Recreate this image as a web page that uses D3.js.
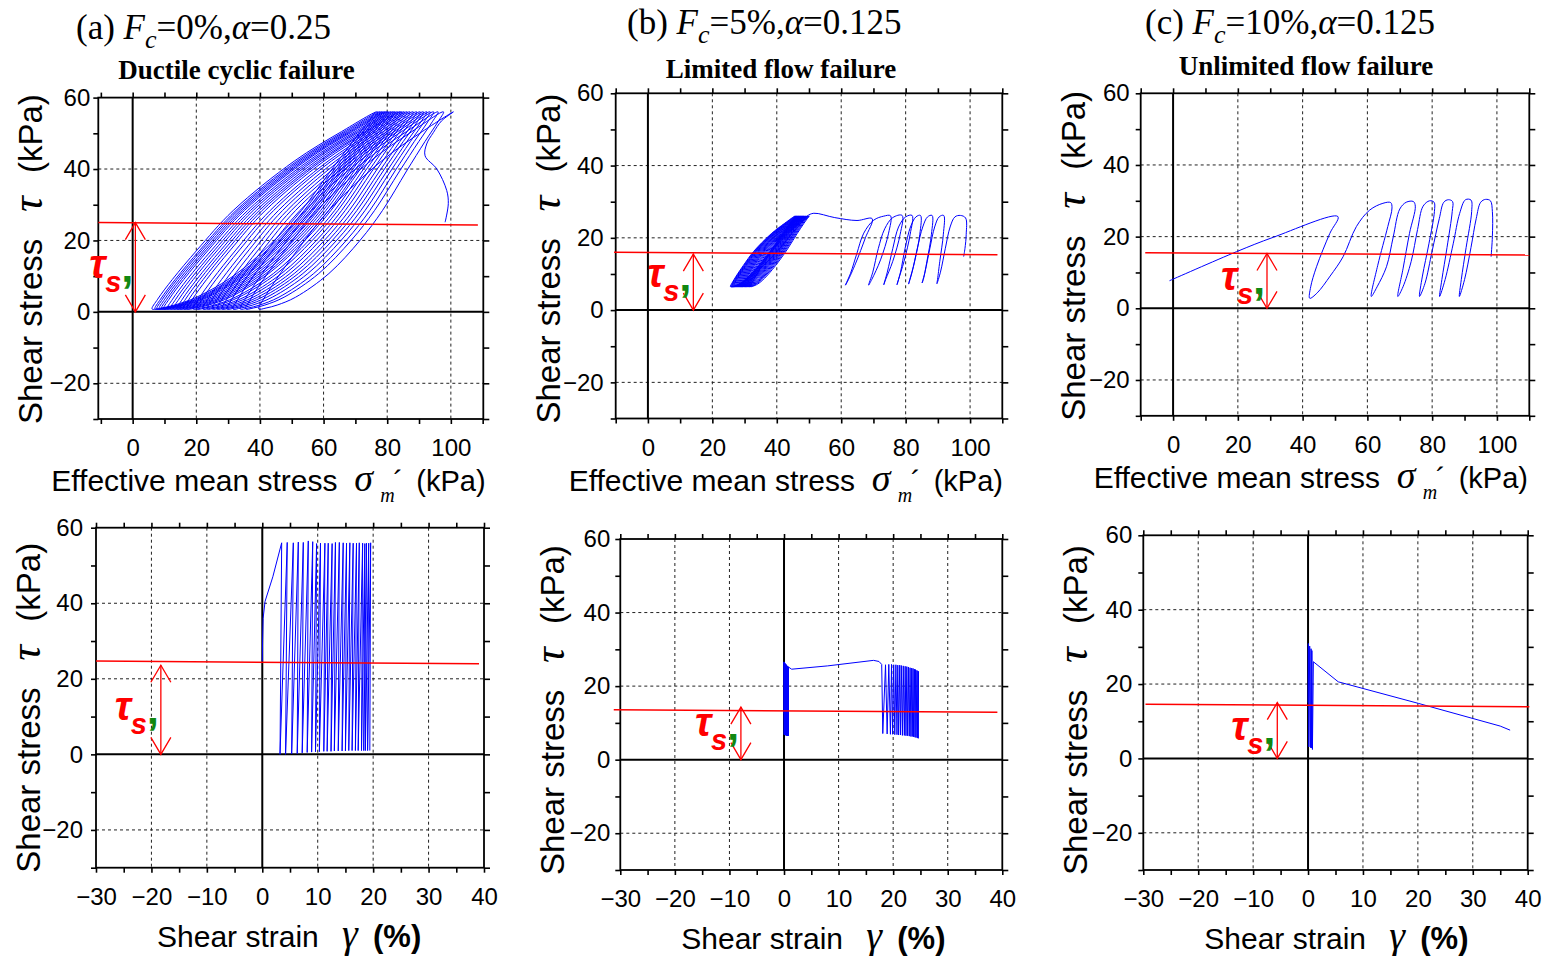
<!DOCTYPE html>
<html>
<head>
<meta charset="utf-8">
<script src="https://cdn.jsdelivr.net/npm/d3@7"></script>
<style>
	body { margin: 0; background: #fff; }
	svg { display: block; }
	text { font-family: "Liberation Sans", Arial, sans-serif; fill: #000; }
	.serif { font-family: "Liberation Serif", "Times New Roman", serif; }
</style>
</head>
<body>
<svg width="1548" height="956"></svg>
<script>

// tick values
const stressTicks = [0, 20, 40, 60, 80, 100];
const strainTicks = [-30, -20, -10, 0, 10, 20, 30, 40];
const tauTicks = [-20, 0, 20, 40, 60];

// panel titles
const caseLetters = ["a", "b", "c"];
const caseFc = ["0%", "5%", "10%"];
const caseAlpha = ["0.25", "0.125", "0.125"];
const failureModes = ["Ductile cyclic failure", "Limited flow failure", "Unlimited flow failure"];

// (a) stress path: first loading, then the cyclic loops (p' at top / bottom of each loop)
const aPathStart = [[98.2, 25.1], [99.2, 30.3], [98.7, 34.0], [95.6, 40.0], [91.9, 43.7], [92.4, 47.0], [94.5, 50.2], [97.1, 53.5]];
const aLoopTops = [100.8, 97.7, 96.0, 94.6, 93.5, 92.5, 91.4, 90.4, 89.3, 88.2, 87.2, 86.3, 85.4, 84.6, 84.1, 83.3, 82.5, 81.9, 81.2, 80.4, 79.8, 79.2, 78.5, 77.8, 77.0, 76.2];
const aLoopBottoms = [39.6, 35.5, 33.8, 31.5, 29.6, 28.0, 26.5, 25.0, 23.4, 22.0, 20.2, 19.0, 17.1, 16.0, 14.9, 13.9, 12.8, 11.8, 10.8, 9.7, 9.0, 8.3, 7.6, 7.0, 6.1];

const loopDownShape = [[1, 1], [0.9, 0.84], [0.75, 0.63], [0.5, 0.36], [0.3, 0.2], [0.15, 0.09], [0.05, 0.025], [0, 0]];
const loopUpShape = [[0, 0], [0.005, 0.04], [0.02, 0.1], [0.06, 0.2], [0.18, 0.38], [0.35, 0.55], [0.5, 0.67], [0.7, 0.8], [0.85, 0.9], [0.95, 0.97], [1, 1]];
const blobUpShape = [[0, 0], [0.01, 0.06], [0.05, 0.15], [0.15, 0.28], [0.35, 0.48], [0.55, 0.65], [0.75, 0.8], [0.9, 0.92], [1, 1]];

// (b) stress path: dense loops, then flow cycles
const bBlobTops = [50.2, 49.9, 49.6, 49.3, 49.0, 48.8, 48.5, 48.3, 48.1, 47.9, 47.7, 47.5, 47.3, 47.1, 46.9, 46.7, 46.5, 46.3, 46.1, 45.9, 45.7, 49.4];
const bBlobBottoms = [31.8, 31.3, 30.9, 30.5, 30.1, 29.7, 29.3, 29.0, 28.7, 28.4, 28.1, 27.8, 27.5, 27.2, 26.9, 26.6, 26.4, 26.2, 26.0, 25.8, 25.6];
const bFlowPath = [
	[51.5, 26.8], [58, 25.6], [64.9, 24.8], [69.6, 25.3],
	[67.5, 20], [64.5, 13], [62, 8], [61.3, 6.9],
	[62.9, 10.2], [64.8, 15.5], [67, 21.3], [70.1, 24.9], [73.2, 26], [75.3, 26.1],
	[74.7, 21.3], [72.2, 13.9], [69.5, 8.5], [68.5, 6.9],
	[69.8, 10.5], [71.5, 17], [73.5, 22.5], [76, 25.6], [78.9, 26.2],
	[78.3, 21], [76, 13.5], [73.8, 8.5], [73.2, 7],
	[74.3, 10.5], [76, 17], [77.8, 23], [80, 25.8], [82, 26.2],
	[81.4, 21], [79.5, 13.5], [77.8, 8.5], [77.3, 7],
	[78.4, 10.5], [79.8, 17], [81.5, 23], [83.2, 25.8], [84.6, 26.2],
	[84.4, 21], [82.8, 13.5], [81.3, 8.5], [80.9, 7.2],
	[82, 10.5], [83.6, 17], [85.3, 23], [86.8, 25.8], [88.2, 26.2],
	[88, 21], [86.6, 13.5], [85.5, 8.5], [85.1, 7.5],
	[86, 10.5], [87.5, 17], [89, 23], [90.4, 25.8], [91.8, 26.2],
	[91.7, 21], [90.6, 13.5], [89.9, 8.5], [89.7, 7.3],
	[90.8, 10.5], [92.3, 17], [93.8, 23], [95.3, 25.8], [97, 26.2], [98.6, 25.5],
	[98.8, 21], [98.4, 17], [98, 14.8]
];

// (c) stress path
const cPath = [
	[-1.1, 7.7], [19.6, 15.8], [30.9, 19.8], [50.9, 25.6],
	[48.4, 20.9], [44.3, 11.6], [42.5, 6.0], [42.2, 2.8],
	[44.5, 4.3], [48.5, 9.0], [52.5, 14.4], [56.6, 22.8], [60.7, 27.4], [64.8, 29.3], [67.2, 29.5],
	[67.6, 28], [66.3, 22.8], [63.2, 12], [61.2, 3.3],
	[63, 6], [65.9, 11.6], [68, 20], [70, 27.7], [72, 29.6], [74.2, 29.8],
	[74.8, 28.5], [73, 20.9], [71, 11], [69.4, 3.3],
	[71, 6], [73.5, 13], [75.5, 22], [77.2, 28.5], [79.2, 30], [80.6, 29.6],
	[80.7, 27], [79, 18], [77, 9], [76.1, 3.3],
	[77.8, 7], [80, 16], [82.2, 25], [83.6, 29.6], [85, 30.3], [86.3, 29.8],
	[86.2, 27], [84.6, 17], [83, 8], [82.3, 3.3],
	[84, 8], [86.5, 18], [88.5, 26.5], [90.3, 30.3], [92, 30.2],
	[92.2, 27], [90.5, 17], [89, 8], [88.4, 3.3],
	[90, 8], [92, 17], [93.6, 25], [95, 29.6], [96.5, 30.4], [98, 30], [98.6, 27], [98.6, 20], [98.2, 14.4]
];

// (a) stress-strain: first loading, then peaks and valleys of each cycle
const aStrainStart = [[0, 24.6], [0.05, 30], [0.15, 36], [0.5, 40.5], [1.9, 47]];
const aStrainPeaks = [3.5, 4.5, 5.6, 6.5, 7.4, 8.3, 9.1, 9.8, 10.5, 11.3, 11.9, 12.6, 13.2, 13.9, 14.6, 15.2, 15.8, 16.4, 17.0, 17.5, 18.1, 18.5, 18.8, 19.2, 19.55];
const aStrainPeakTau = [56.0, 56.1, 56.0, 56.2, 56.1, 56.5, 56.3, 55.8, 55.9, 55.9, 55.9, 55.8, 56.1, 56.1, 56.0, 55.9, 56.0, 55.9, 55.9, 56.0, 55.9, 55.8, 55.9, 55.9, 56.0];
const aStrainValleys = [3.2, 4.2, 5.3, 6.3, 7.2, 8.1, 8.9, 9.6, 10.3, 11.1, 11.7, 12.4, 13.0, 13.7, 14.4, 15.0, 15.6, 16.2, 16.8, 17.3, 17.9, 18.3, 18.6, 19.0, 19.4];
const aStrainValleyTau = [0, 0, 0.1, 0.2, 0.4, 0.5, 0.6, 0.7, 0.7, 0.8, 0.8, 0.8, 0.9, 0.9, 0.9, 0.9, 1.0, 1.0, 1.0, 1.0, 1.0, 1.0, 1.0, 1.0, 1.0];

// (b) stress-strain
const bBandPeaks = [0.0, 0.05, 0.13, 0.18, 0.26, 0.31, 0.37, 0.44, 0.49, 0.55, 0.62, 0.67, 0.73, 0.79];
const bBandPeakTau = [26.6, 26.5, 26.3, 26.2, 26.0, 25.9, 25.8, 25.8, 25.6, 25.5, 25.4, 25.3, 25.3, 25.2];
const bBandValleys = [0.02, 0.1, 0.15, 0.22, 0.28, 0.34, 0.41, 0.46, 0.52, 0.59, 0.64, 0.7, 0.76, 0.8];
const bBandValleyTau = [6.8, 6.8, 6.7, 6.7, 6.7, 6.6, 6.6, 6.6, 6.6, 6.6, 6.6, 6.5, 6.5, 6.6];
const bFlowStrain = [[0.8, 25.2], [1.4, 24.6], [8, 25.5], [16.4, 27.0], [17.4, 26.7], [17.9, 25.9]];
const bClusterValleys = [18.1, 18.9, 19.5, 19.9, 20.3, 20.7, 21.0, 21.35, 21.7, 22.05, 22.35, 22.65, 22.95, 23.25, 23.5, 23.75, 24.0, 24.2, 24.45, 24.6];
const bClusterValleyTau = [7.1, 7.0, 6.9, 6.9, 6.8, 6.8, 6.7, 6.7, 6.6, 6.6, 6.5, 6.5, 6.4, 6.3, 6.3, 6.2, 6.1, 6.0, 5.9, 5.8];
const bClusterPeaks = [18.6, 19.2, 19.7, 20.1, 20.5, 20.85, 21.2, 21.5, 21.85, 22.2, 22.5, 22.8, 23.1, 23.4, 23.65, 23.9, 24.1, 24.35, 24.55, 24.65];
const bClusterPeakTau = [25.8, 25.9, 25.9, 25.8, 25.8, 25.7, 25.7, 25.6, 25.5, 25.4, 25.3, 25.2, 25.0, 24.9, 24.8, 24.6, 24.5, 24.3, 24.1, 24.0];

// (c) stress-strain
const cStrainPath = [[0, 15], [0.06, 30.9], [0.15, 3.1], [0.3, 30.2], [0.45, 2.9], [0.55, 29.5], [0.65, 2.8], [0.7, 29.0], [0.8, 2.4], [0.97, 26.0], [5.5, 20.6], [20.1, 14.8], [35.0, 8.7], [36.8, 7.6]];

// tau_s' reference lines and arrows (panels a,b,c top then a,b,c bottom)
const tauSLines = [
	[[-10.8, 25.0], [108.5, 24.3]],
	[[-10.5, 16.0], [108.5, 15.3]],
	[[-8.6, 15.5], [110, 14.9]],
	[[-30, 24.7], [39.1, 24.0]],
	[[-31.2, 13.6], [39.1, 12.9]],
	[[-29.6, 14.6], [40.3, 13.9]]
];
const tauSArrowX = [0.85, 14.1, 29.0, -18.3, -7.9, -5.6];
const tauSArrowTop = [25.0, 15.5, 15.3, 23.6, 14.3, 15.0];

// page layout of the six plot frames
const layout = [
	{left: 98.3, right: 483.3, top: 97.6, bottom: 419, xDomain: [-10.8, 110.2], kind: "stress", labelGap: 8, tauLift: 34},
	{left: 615.7, right: 1002.3, top: 93.3, bottom: 418.5, xDomain: [-10, 110], kind: "stress", labelGap: 12, tauLift: 23},
	{left: 1140.7, right: 1529.3, top: 93.3, bottom: 415.8, xDomain: [-10, 110], kind: "stress", labelGap: 11, tauLift: 18},
	{left: 96, right: 484, top: 527.7, bottom: 867.7, xDomain: [-30, 40], kind: "strain", labelGap: 13, tauLift: 34},
	{left: 620.3, right: 1002.3, top: 539, bottom: 870, xDomain: [-30, 40], kind: "strain", labelGap: 10, tauLift: 24},
	{left: 1143.3, right: 1527.7, top: 535.3, bottom: 870, xDomain: [-30, 40], kind: "strain", labelGap: 11, tauLift: 18}
];
const titleX = [76, 627, 1145];
const titleY = [39, 34, 34];
const subtitleX = [236.5, 781, 1306];
const subtitleY = [79, 78, 75];

const svg = d3.select("svg");

//build a chain of loops from the tops / bottoms
function buildLoops(tops, bottoms, tauTop, tauBot, down, up) {
	const pts = [];
	for (let i = 0; i < bottoms.length; i++) {
		down.forEach(([s, f], k) => {
			if (i > 0 && k === 0) return;
			pts.push([bottoms[i] + f * (tops[i] - bottoms[i]), tauBot + s * (tauTop - tauBot)]);
		});
		up.forEach(([s, f], k) => {
			if (k === 0) return;
			pts.push([bottoms[i] + f * (tops[i + 1] - bottoms[i]), tauBot + s * (tauTop - tauBot)]);
		});
	}
	return pts;
}

//alternate peaks and valleys into one saw-tooth path
function sawTooth(peaks, peakTau, valleys, valleyTau) {
	const pts = [];
	peaks.forEach((p, i) => {
		pts.push([p, peakTau[i]]);
		if (i < valleys.length) pts.push([valleys[i], valleyTau[i]]);
	});
	return pts;
}

function strainSaw(valleys, valleyTau, peaks, peakTau) {
	const pts = [];
	valleys.forEach((v, i) => {
		pts.push([v, valleyTau[i]]);
		pts.push([peaks[i], peakTau[i]]);
	});
	return pts;
}

const curves = [
	[{pts: aPathStart.concat(buildLoops(aLoopTops, aLoopBottoms, 56, 0.8, loopDownShape, loopUpShape)), smooth: true}],
	[{pts: buildLoops(bBlobTops, bBlobBottoms, 26, 6.5, loopDownShape, blobUpShape).concat(bFlowPath), smooth: true}],
	[{pts: cPath, smooth: true}],
	[{pts: aStrainStart.concat(sawTooth(aStrainPeaks, aStrainPeakTau, aStrainValleys, aStrainValleyTau)), smooth: false}],
	[{pts: [[0, 12.5]].concat(sawTooth(bBandPeaks, bBandPeakTau, bBandValleys, bBandValleyTau), bFlowStrain, strainSaw(bClusterValleys, bClusterValleyTau, bClusterPeaks, bClusterPeakTau)), smooth: false}],
	[{pts: cStrainPath, smooth: false}]
];

function drawPanel(L, i) {
	const x = d3.scaleLinear().domain(L.xDomain).range([L.left, L.right]);
	const y = d3.scaleLinear().domain([-30, 60]).range([L.bottom, L.top]);
	const stress = L.kind === "stress";
	const majorX = stress ? stressTicks : strainTicks;
	const minorX = stress ? d3.range(-10, 111, 10) : d3.range(-30, 41, 5);
	const minorY = [-30, -10, 10, 30, 50];
	const g = svg.append("g");

	//dashed grid
	const gridX = majorX.filter(v => v !== 0 && x(v) > L.left + 1 && x(v) < L.right - 1);
	const gridY = tauTicks.filter(v => v !== 0 && v < 60);
	g.selectAll(".gx").data(gridX).enter().append("line")
		.attr("x1", d => x(d)).attr("x2", d => x(d))
		.attr("y1", L.top).attr("y2", L.bottom)
		.attr("stroke", "#222").attr("stroke-width", 1).attr("stroke-dasharray", "3,3");
	g.selectAll(".gy").data(gridY).enter().append("line")
		.attr("y1", d => y(d)).attr("y2", d => y(d))
		.attr("x1", L.left).attr("x2", L.right)
		.attr("stroke", "#222").attr("stroke-width", 1).attr("stroke-dasharray", "3,3");

	//zero lines
	g.append("line").attr("x1", x(0)).attr("x2", x(0)).attr("y1", L.top).attr("y2", L.bottom)
		.attr("stroke", "#000").attr("stroke-width", 2);
	g.append("line").attr("x1", L.left).attr("x2", L.right).attr("y1", y(0)).attr("y2", y(0))
		.attr("stroke", "#000").attr("stroke-width", 2);

	//frame
	g.append("rect").attr("x", L.left).attr("y", L.top)
		.attr("width", L.right - L.left).attr("height", L.bottom - L.top)
		.attr("fill", "none").attr("stroke", "#000").attr("stroke-width", 1.8);

	//ticks on all four sides, pointing out
	function ticks(axis, tx, ty, values, size) {
		g.append("g").attr("transform", `translate(${tx},${ty})`)
			.call(axis.tickValues(values).tickSize(size).tickFormat(""))
			.call(a => a.select(".domain").remove())
			.selectAll("line").attr("stroke", "#000").attr("stroke-width", 1.6);
	}
	ticks(d3.axisBottom(x), 0, L.bottom, minorX, 5);
	ticks(d3.axisTop(x), 0, L.top, minorX, 5);
	ticks(d3.axisLeft(y), L.left, 0, minorY.concat(tauTicks), 5);
	ticks(d3.axisRight(y), L.right, 0, minorY.concat(tauTicks), 6);

	//tick labels
	const xa = g.append("g").attr("transform", `translate(0,${L.bottom})`)
		.call(d3.axisBottom(x).tickValues(majorX).tickSize(0).tickPadding(20));
	xa.select(".domain").remove();
	xa.selectAll("text").attr("font-size", 24).attr("font-family", "'Liberation Sans', Arial, sans-serif");
	const ya = g.append("g").attr("transform", `translate(${L.left},0)`)
		.call(d3.axisLeft(y).tickValues(tauTicks).tickSize(0).tickPadding(L.labelGap));
	ya.select(".domain").remove();
	ya.selectAll("text").attr("font-size", 24).attr("font-family", "'Liberation Sans', Arial, sans-serif");

	//data
	curves[i].forEach(c => {
		const line = d3.line().x(d => x(d[0])).y(d => y(d[1]));
		if (c.smooth) line.curve(d3.curveCatmullRom.alpha(0.5));
		g.append("path").attr("d", line(c.pts))
			.attr("fill", "none").attr("stroke", "#0000ff").attr("stroke-width", 1);
	});

	//tau_s' line and arrow
	g.append("path").attr("d", d3.line().x(d => x(d[0])).y(d => y(d[1]))(tauSLines[i]))
		.attr("stroke", "#ff0000").attr("stroke-width", 1.5).attr("fill", "none");
	const ax = x(tauSArrowX[i]);
	const y0 = y(0);
	const yt = y(tauSArrowTop[i]);
	const red = s => g.append("path").attr("d", s).attr("stroke", "#ff0000").attr("stroke-width", 1.3).attr("fill", "none");
	red(`M${ax},${y0}V${yt}`);
	red(`M${ax - 10},${yt + 17}L${ax},${yt}L${ax + 10},${yt + 17}`);
	red(`M${ax - 10},${y0 - 17}L${ax},${y0}L${ax + 10},${y0 - 17}`);

	const base = y0 - L.tauLift;
	g.append("text").attr("x", ax - 46).attr("y", base)
		.attr("font-size", 40).attr("font-weight", "bold").attr("font-style", "italic")
		.style("fill", "#ff0000").text("τ");
	g.append("text").attr("x", ax - 30).attr("y", base + 14)
		.attr("font-size", 29).attr("font-weight", "bold").attr("font-style", "italic")
		.style("fill", "#ff0000").text("s");
	g.append("text").attr("x", ax - 14).attr("y", base + 29)
		.attr("font-size", 44).attr("font-weight", "bold")
		.style("fill", "#118811").text("’");

	//y title
	const yt2 = svg.append("g").attr("transform", `translate(${L.left - 56},${L.bottom + 5}) rotate(-90)`);
	yt2.append("text").attr("font-size", 33).text("Shear stress");
	yt2.append("text").attr("class", "serif").attr("x", 212).attr("font-size", 44).attr("font-style", "italic").text("τ");
	yt2.append("text").attr("x", 251).attr("font-size", 33).text("(kPa)");

	//x title
	if (stress) {
		const by = L.bottom + 72;
		svg.append("text").attr("x", L.left - 47).attr("y", by).attr("font-size", 30).text("Effective mean stress");
		svg.append("text").attr("class", "serif").attr("x", L.left + 256).attr("y", by)
			.attr("font-size", 38).attr("font-style", "italic").text("σ");
		svg.append("text").attr("class", "serif").attr("x", L.left + 282).attr("y", by + 11)
			.attr("font-size", 20).attr("font-style", "italic").text("m");
		svg.append("text").attr("x", L.left + 295).attr("y", by).attr("font-size", 30).text("´");
		svg.append("text").attr("x", L.left + 318).attr("y", by).attr("font-size", 29).text("(kPa)");
	} else {
		const by = L.bottom + 79;
		svg.append("text").attr("x", L.left + 61).attr("y", by).attr("font-size", 30).text("Shear strain");
		svg.append("text").attr("class", "serif").attr("x", L.left + 246).attr("y", by)
			.attr("font-size", 40).attr("font-style", "italic").text("γ");
		svg.append("text").attr("x", L.left + 277).attr("y", by).attr("font-size", 31).attr("font-weight", "bold").text("(%)");
	}
}

layout.forEach(drawPanel);

//case titles
caseLetters.forEach((c, i) => {
	const t = svg.append("text").attr("class", "serif")
		.attr("x", titleX[i]).attr("y", titleY[i]).attr("font-size", 35);
	t.append("tspan").text(`(${c}) `);
	t.append("tspan").attr("font-style", "italic").text("F");
	t.append("tspan").attr("font-style", "italic").attr("font-size", 26).attr("dy", 9).text("c");
	t.append("tspan").attr("dy", -9).text(`=${caseFc[i]},`);
	t.append("tspan").attr("font-style", "italic").text("α");
	t.append("tspan").text(`=${caseAlpha[i]}`);

	svg.append("text").attr("class", "serif")
		.attr("x", subtitleX[i]).attr("y", subtitleY[i])
		.attr("text-anchor", "middle").attr("font-size", 27).attr("font-weight", "bold")
		.text(failureModes[i]);
});

</script>
</body>
</html>
